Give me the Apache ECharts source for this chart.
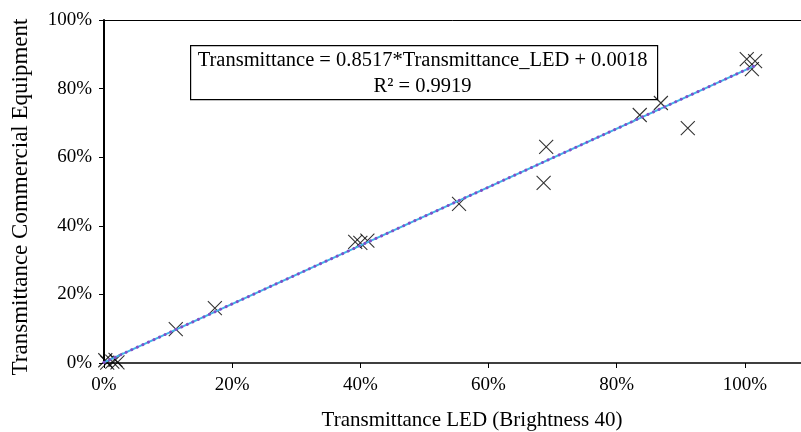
<!DOCTYPE html>
<html>
<head>
<meta charset="utf-8">
<script src="https://cdn.jsdelivr.net/npm/echarts@6/dist/echarts.min.js"></script>
<style>
  html, body { margin: 0; padding: 0; background: #fff; }
  #chart { width: 801px; height: 432px; }
</style>
</head>
<body>
<div id="chart"></div>
<script>
// Measured transmittance: LED method (x) vs commercial equipment (y)
const ledValues = [0.002, 0.005, 0.013, 0.018, 0.021, 0.112, 0.173, 0.392, 0.400, 0.411, 0.554, 0.690, 0.686, 0.836, 0.869, 0.911, 1.003, 1.016, 1.011];
const commercialValues = [0.008, 0.001, 0.004, 0.009, 0.002, 0.099, 0.160, 0.353, 0.350, 0.357, 0.464, 0.630, 0.525, 0.723, 0.758, 0.685, 0.886, 0.880, 0.857];

// Linear fit reported for the data
const slope = 0.8517;
const intercept = 0.0018;
const rSquared = 0.9919;
const fitRange = [0, 1.016];

const xTitle = 'Transmittance LED (Brightness 40)';
const yTitle = 'Transmittance Commercial Equipment';
const equationText = 'Transmittance = ' + slope + '*Transmittance_LED + ' + intercept.toFixed(4);
const rSquaredText = 'R\u00B2 = ' + rSquared;

const scatterData = ledValues.map((x, i) => [x, commercialValues[i]]);
const fitData = fitRange.map(x => [x, slope * x + intercept]);

const serif = 'Liberation Serif, Times New Roman, serif';
const pct = v => Math.round(v * 100) + '%';

const chart = echarts.init(document.getElementById('chart'), null, { renderer: 'canvas' });
chart.setOption({
  animation: false,
  backgroundColor: '#ffffff',
  // plot area runs past the right edge of the canvas
  grid: { left: 104, top: 20, width: 769, height: 343, containLabel: false, outerBoundsMode: 'none' },
  xAxis: [{
    type: 'value', min: 0, max: 1.2, interval: 0.2,
    axisLine: { show: true, onZero: false, lineStyle: { color: '#000', width: 1.5 } },
    axisTick: { show: true, inside: false, length: 5, lineStyle: { color: '#000' } },
    axisLabel: { formatter: pct, fontFamily: serif, fontSize: 19, color: '#000', margin: 13 },
    splitLine: { show: false }
  }, {
    type: 'value', min: 0, max: 1.2, position: 'top',
    axisLine: { show: true, onZero: false, lineStyle: { color: '#000', width: 1 } },
    axisTick: { show: false }, axisLabel: { show: false }, splitLine: { show: false }
  }],
  yAxis: {
    type: 'value', min: 0, max: 1, interval: 0.2,
    axisLine: { show: true, onZero: false, lineStyle: { color: '#000', width: 2 } },
    axisTick: { show: true, inside: false, length: 5, lineStyle: { color: '#000' } },
    axisLabel: { formatter: pct, fontFamily: serif, fontSize: 19, color: '#000', margin: 12 },
    splitLine: { show: false }
  },
  series: [{
    type: 'scatter',
    data: scatterData,
    symbol: 'path://M0,0L10,10M10,0L0,10',
    symbolSize: 14,
    itemStyle: { color: 'none', borderColor: '#000', borderWidth: 1.1 },
    z: 3
  }, {
    type: 'line',
    data: fitData,
    showSymbol: false,
    lineStyle: { color: '#3fb5e8', width: 2 },
    z: 4
  }, {
    type: 'line',
    data: fitData,
    showSymbol: false,
    lineStyle: { color: '#7f4fc9', width: 3, type: [0.1, 6], cap: 'round' },
    z: 5
  }],
  graphic: [{
    // axis titles
    type: 'text', x: 472, y: 420,
    style: { text: xTitle, font: '21px ' + serif, fill: '#000', textAlign: 'center', textVerticalAlign: 'middle' }
  }, {
    type: 'text', x: 21, y: 197, rotation: Math.PI / 2,
    style: { text: yTitle, font: '23px ' + serif, fill: '#000', textAlign: 'center', textVerticalAlign: 'middle' }
  }, {
    // regression equation box
    type: 'group', left: 190, top: 45,
    children: [{
      type: 'rect',
      shape: { x: 0, y: 0, width: 467, height: 54 },
      style: { fill: '#fff', stroke: '#000', lineWidth: 1.2 }
    }, {
      type: 'text', x: 232, y: 15,
      style: { text: equationText, font: '20.5px ' + serif, fill: '#000', textAlign: 'center', textVerticalAlign: 'middle' }
    }, {
      type: 'text', x: 232, y: 41,
      style: { text: rSquaredText, font: '20.5px ' + serif, fill: '#000', textAlign: 'center', textVerticalAlign: 'middle' }
    }]
  }]
});
</script>
</body>
</html>
